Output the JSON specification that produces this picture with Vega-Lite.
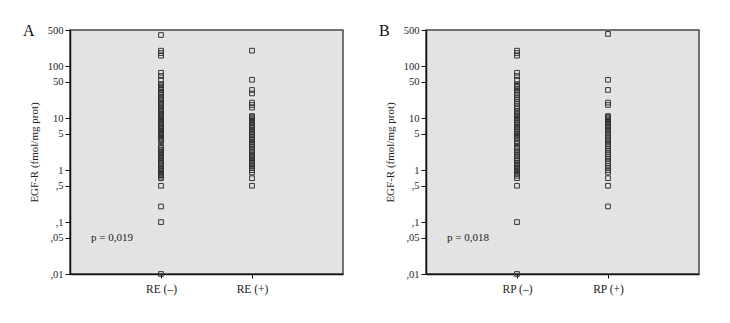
{
  "$schema": "https://vega.github.io/schema/vega-lite/v6.json",
  "background": "white",
  "padding": {"left": 22, "top": 22, "right": 5, "bottom": 5},
  "spacing": 34,
  "config": {
    "font": "Liberation Serif",
    "view": {"fill": "#e3e3e3", "stroke": "#4a4a4a", "strokeWidth": 1.5},
    "axis": {"labelFont": "Liberation Serif", "titleFont": "Liberation Serif", "labelColor": "#222", "titleColor": "#222", "domainColor": "#111", "tickColor": "#111", "grid": false},
    "title": {"font": "Liberation Serif", "fontWeight": "normal", "fontSize": 16, "color": "#111"}
  },
  "datasets": {
    "A": [
      {"group": "RE (–)", "egfr": 400}, {"group": "RE (–)", "egfr": 200}, {"group": "RE (–)", "egfr": 180}, {"group": "RE (–)", "egfr": 160},
      {"group": "RE (–)", "egfr": 75}, {"group": "RE (–)", "egfr": 65}, {"group": "RE (–)", "egfr": 55}, {"group": "RE (–)", "egfr": 45},
      {"group": "RE (–)", "egfr": 43}, {"group": "RE (–)", "egfr": 40}, {"group": "RE (–)", "egfr": 38}, {"group": "RE (–)", "egfr": 35},
      {"group": "RE (–)", "egfr": 32}, {"group": "RE (–)", "egfr": 30}, {"group": "RE (–)", "egfr": 28}, {"group": "RE (–)", "egfr": 26},
      {"group": "RE (–)", "egfr": 24}, {"group": "RE (–)", "egfr": 22}, {"group": "RE (–)", "egfr": 20}, {"group": "RE (–)", "egfr": 19},
      {"group": "RE (–)", "egfr": 18}, {"group": "RE (–)", "egfr": 17}, {"group": "RE (–)", "egfr": 16}, {"group": "RE (–)", "egfr": 15},
      {"group": "RE (–)", "egfr": 14}, {"group": "RE (–)", "egfr": 13}, {"group": "RE (–)", "egfr": 12}, {"group": "RE (–)", "egfr": 11.5},
      {"group": "RE (–)", "egfr": 11}, {"group": "RE (–)", "egfr": 10.5}, {"group": "RE (–)", "egfr": 10}, {"group": "RE (–)", "egfr": 9.5},
      {"group": "RE (–)", "egfr": 9}, {"group": "RE (–)", "egfr": 8.5}, {"group": "RE (–)", "egfr": 8}, {"group": "RE (–)", "egfr": 7.5},
      {"group": "RE (–)", "egfr": 7}, {"group": "RE (–)", "egfr": 6.6}, {"group": "RE (–)", "egfr": 6.2}, {"group": "RE (–)", "egfr": 5.8},
      {"group": "RE (–)", "egfr": 5.5}, {"group": "RE (–)", "egfr": 5.2}, {"group": "RE (–)", "egfr": 5}, {"group": "RE (–)", "egfr": 4.8},
      {"group": "RE (–)", "egfr": 4.5}, {"group": "RE (–)", "egfr": 4.2}, {"group": "RE (–)", "egfr": 4}, {"group": "RE (–)", "egfr": 3.8},
      {"group": "RE (–)", "egfr": 3.6}, {"group": "RE (–)", "egfr": 2.8}, {"group": "RE (–)", "egfr": 2.7}, {"group": "RE (–)", "egfr": 2.5},
      {"group": "RE (–)", "egfr": 2.4}, {"group": "RE (–)", "egfr": 2.2}, {"group": "RE (–)", "egfr": 2.1}, {"group": "RE (–)", "egfr": 2},
      {"group": "RE (–)", "egfr": 1.9}, {"group": "RE (–)", "egfr": 1.8}, {"group": "RE (–)", "egfr": 1.7}, {"group": "RE (–)", "egfr": 1.6},
      {"group": "RE (–)", "egfr": 1.5}, {"group": "RE (–)", "egfr": 1.4}, {"group": "RE (–)", "egfr": 1.3}, {"group": "RE (–)", "egfr": 1.2},
      {"group": "RE (–)", "egfr": 1.1}, {"group": "RE (–)", "egfr": 1.05}, {"group": "RE (–)", "egfr": 1}, {"group": "RE (–)", "egfr": 0.95},
      {"group": "RE (–)", "egfr": 0.9}, {"group": "RE (–)", "egfr": 0.85}, {"group": "RE (–)", "egfr": 0.8}, {"group": "RE (–)", "egfr": 0.75},
      {"group": "RE (–)", "egfr": 0.7}, {"group": "RE (–)", "egfr": 0.5}, {"group": "RE (–)", "egfr": 0.2}, {"group": "RE (–)", "egfr": 0.1},
      {"group": "RE (–)", "egfr": 0.01},
      {"group": "RE (+)", "egfr": 200}, {"group": "RE (+)", "egfr": 55}, {"group": "RE (+)", "egfr": 35}, {"group": "RE (+)", "egfr": 30},
      {"group": "RE (+)", "egfr": 20}, {"group": "RE (+)", "egfr": 18}, {"group": "RE (+)", "egfr": 16}, {"group": "RE (+)", "egfr": 11},
      {"group": "RE (+)", "egfr": 10.5}, {"group": "RE (+)", "egfr": 10}, {"group": "RE (+)", "egfr": 9.5}, {"group": "RE (+)", "egfr": 9},
      {"group": "RE (+)", "egfr": 8.5}, {"group": "RE (+)", "egfr": 8}, {"group": "RE (+)", "egfr": 7.5}, {"group": "RE (+)", "egfr": 7},
      {"group": "RE (+)", "egfr": 6.5}, {"group": "RE (+)", "egfr": 6}, {"group": "RE (+)", "egfr": 5.5}, {"group": "RE (+)", "egfr": 5},
      {"group": "RE (+)", "egfr": 4.7}, {"group": "RE (+)", "egfr": 4.4}, {"group": "RE (+)", "egfr": 4.1}, {"group": "RE (+)", "egfr": 3.8},
      {"group": "RE (+)", "egfr": 3.5}, {"group": "RE (+)", "egfr": 3.2}, {"group": "RE (+)", "egfr": 3}, {"group": "RE (+)", "egfr": 2.8},
      {"group": "RE (+)", "egfr": 2.6}, {"group": "RE (+)", "egfr": 2.4}, {"group": "RE (+)", "egfr": 2.2}, {"group": "RE (+)", "egfr": 2},
      {"group": "RE (+)", "egfr": 1.9}, {"group": "RE (+)", "egfr": 1.8}, {"group": "RE (+)", "egfr": 1.7}, {"group": "RE (+)", "egfr": 1.6},
      {"group": "RE (+)", "egfr": 1.5}, {"group": "RE (+)", "egfr": 1.4}, {"group": "RE (+)", "egfr": 1.3}, {"group": "RE (+)", "egfr": 1.2},
      {"group": "RE (+)", "egfr": 1.1}, {"group": "RE (+)", "egfr": 1}, {"group": "RE (+)", "egfr": 0.9}, {"group": "RE (+)", "egfr": 0.7},
      {"group": "RE (+)", "egfr": 0.5}
    ],
    "B": [
      {"group": "RP (–)", "egfr": 200}, {"group": "RP (–)", "egfr": 180}, {"group": "RP (–)", "egfr": 160}, {"group": "RP (–)", "egfr": 75},
      {"group": "RP (–)", "egfr": 65}, {"group": "RP (–)", "egfr": 55}, {"group": "RP (–)", "egfr": 45}, {"group": "RP (–)", "egfr": 42},
      {"group": "RP (–)", "egfr": 40}, {"group": "RP (–)", "egfr": 37}, {"group": "RP (–)", "egfr": 34}, {"group": "RP (–)", "egfr": 31},
      {"group": "RP (–)", "egfr": 28}, {"group": "RP (–)", "egfr": 25}, {"group": "RP (–)", "egfr": 23}, {"group": "RP (–)", "egfr": 21},
      {"group": "RP (–)", "egfr": 19}, {"group": "RP (–)", "egfr": 17}, {"group": "RP (–)", "egfr": 15.5}, {"group": "RP (–)", "egfr": 14},
      {"group": "RP (–)", "egfr": 13}, {"group": "RP (–)", "egfr": 12}, {"group": "RP (–)", "egfr": 11}, {"group": "RP (–)", "egfr": 10},
      {"group": "RP (–)", "egfr": 9.3}, {"group": "RP (–)", "egfr": 8.6}, {"group": "RP (–)", "egfr": 8}, {"group": "RP (–)", "egfr": 7.4},
      {"group": "RP (–)", "egfr": 6.8}, {"group": "RP (–)", "egfr": 6.3}, {"group": "RP (–)", "egfr": 5.8}, {"group": "RP (–)", "egfr": 5.4},
      {"group": "RP (–)", "egfr": 5}, {"group": "RP (–)", "egfr": 4.6}, {"group": "RP (–)", "egfr": 4.2}, {"group": "RP (–)", "egfr": 3.9},
      {"group": "RP (–)", "egfr": 3.6}, {"group": "RP (–)", "egfr": 3.3}, {"group": "RP (–)", "egfr": 2.8}, {"group": "RP (–)", "egfr": 2.6},
      {"group": "RP (–)", "egfr": 2.4}, {"group": "RP (–)", "egfr": 2.2}, {"group": "RP (–)", "egfr": 2}, {"group": "RP (–)", "egfr": 1.85},
      {"group": "RP (–)", "egfr": 1.7}, {"group": "RP (–)", "egfr": 1.55}, {"group": "RP (–)", "egfr": 1.4}, {"group": "RP (–)", "egfr": 1.3},
      {"group": "RP (–)", "egfr": 1.2}, {"group": "RP (–)", "egfr": 1.1}, {"group": "RP (–)", "egfr": 1}, {"group": "RP (–)", "egfr": 0.93},
      {"group": "RP (–)", "egfr": 0.85}, {"group": "RP (–)", "egfr": 0.78}, {"group": "RP (–)", "egfr": 0.7}, {"group": "RP (–)", "egfr": 0.5},
      {"group": "RP (–)", "egfr": 0.1}, {"group": "RP (–)", "egfr": 0.01},
      {"group": "RP (+)", "egfr": 420}, {"group": "RP (+)", "egfr": 55}, {"group": "RP (+)", "egfr": 35}, {"group": "RP (+)", "egfr": 20},
      {"group": "RP (+)", "egfr": 18}, {"group": "RP (+)", "egfr": 11}, {"group": "RP (+)", "egfr": 10.5}, {"group": "RP (+)", "egfr": 10},
      {"group": "RP (+)", "egfr": 9.5}, {"group": "RP (+)", "egfr": 9}, {"group": "RP (+)", "egfr": 8.5}, {"group": "RP (+)", "egfr": 8},
      {"group": "RP (+)", "egfr": 7.5}, {"group": "RP (+)", "egfr": 7}, {"group": "RP (+)", "egfr": 6.5}, {"group": "RP (+)", "egfr": 6},
      {"group": "RP (+)", "egfr": 5.5}, {"group": "RP (+)", "egfr": 5}, {"group": "RP (+)", "egfr": 4.6}, {"group": "RP (+)", "egfr": 4.2},
      {"group": "RP (+)", "egfr": 3.8}, {"group": "RP (+)", "egfr": 3.5}, {"group": "RP (+)", "egfr": 3.2}, {"group": "RP (+)", "egfr": 2.9},
      {"group": "RP (+)", "egfr": 2.6}, {"group": "RP (+)", "egfr": 2.4}, {"group": "RP (+)", "egfr": 2.2}, {"group": "RP (+)", "egfr": 2},
      {"group": "RP (+)", "egfr": 1.8}, {"group": "RP (+)", "egfr": 1.65}, {"group": "RP (+)", "egfr": 1.5}, {"group": "RP (+)", "egfr": 1.35},
      {"group": "RP (+)", "egfr": 1.2}, {"group": "RP (+)", "egfr": 1.1}, {"group": "RP (+)", "egfr": 1}, {"group": "RP (+)", "egfr": 0.9},
      {"group": "RP (+)", "egfr": 0.7}, {"group": "RP (+)", "egfr": 0.5}, {"group": "RP (+)", "egfr": 0.2}
    ],
    "pA": [{"group": "RE (–)", "egfr": 0.05, "label": "p = 0,019"}],
    "pB": [{"group": "RP (–)", "egfr": 0.05, "label": "p = 0,018"}]
  },
  "hconcat": [
    {
      "width": 273,
      "height": 244,
      "title": {"text": "A", "anchor": "start", "frame": "group", "dx": -47, "offset": -14},
      "layer": [
        {
          "data": {"name": "A"},
          "mark": {"type": "point", "shape": "square", "filled": false, "size": 22, "stroke": "#333", "strokeWidth": 1, "opacity": 1},
          "encoding": {
            "x": {"field": "group", "type": "nominal", "scale": {"type": "point", "padding": 1, "domain": ["RE (–)", "RE (+)"]},
              "axis": {"title": null, "labelAngle": 0, "labelFontSize": 11.5, "labelPadding": 5, "tickSize": 4, "domainWidth": 1.5}},
            "y": {"field": "egfr", "type": "quantitative", "scale": {"type": "log", "domain": [0.01, 500], "nice": false},
              "axis": {"title": "EGF-R (fmol/mg prot)", "titleFontSize": 11, "titleFontWeight": "normal", "titlePadding": 8,
                "values": [0.01, 0.05, 0.1, 0.5, 1, 5, 10, 50, 100, 500], "labelFontSize": 10.5, "tickSize": 5, "domainWidth": 1.5,
                "labelExpr": "datum.value >= 1 ? '' + datum.value : replace('' + datum.value, '0.', ',')"}}
          }
        },
        {
          "data": {"name": "pA"},
          "mark": {"type": "text", "fontSize": 11, "align": "center", "baseline": "middle", "dx": -49, "color": "#222"},
          "encoding": {
            "x": {"field": "group", "type": "nominal"},
            "y": {"field": "egfr", "type": "quantitative"},
            "text": {"field": "label"}
          }
        }
      ]
    },
    {
      "width": 273,
      "height": 244,
      "title": {"text": "B", "anchor": "start", "frame": "group", "dx": -47, "offset": -14},
      "layer": [
        {
          "data": {"name": "B"},
          "mark": {"type": "point", "shape": "square", "filled": false, "size": 22, "stroke": "#333", "strokeWidth": 1, "opacity": 1},
          "encoding": {
            "x": {"field": "group", "type": "nominal", "scale": {"type": "point", "padding": 1, "domain": ["RP (–)", "RP (+)"]},
              "axis": {"title": null, "labelAngle": 0, "labelFontSize": 11.5, "labelPadding": 5, "tickSize": 4, "domainWidth": 1.5}},
            "y": {"field": "egfr", "type": "quantitative", "scale": {"type": "log", "domain": [0.01, 500], "nice": false},
              "axis": {"title": "EGF-R (fmol/mg prot)", "titleFontSize": 11, "titleFontWeight": "normal", "titlePadding": 8,
                "values": [0.01, 0.05, 0.1, 0.5, 1, 5, 10, 50, 100, 500], "labelFontSize": 10.5, "tickSize": 5, "domainWidth": 1.5,
                "labelExpr": "datum.value >= 1 ? '' + datum.value : replace('' + datum.value, '0.', ',')"}}
          }
        },
        {
          "data": {"name": "pB"},
          "mark": {"type": "text", "fontSize": 11, "align": "center", "baseline": "middle", "dx": -49, "color": "#222"},
          "encoding": {
            "x": {"field": "group", "type": "nominal"},
            "y": {"field": "egfr", "type": "quantitative"},
            "text": {"field": "label"}
          }
        }
      ]
    }
  ]
}
